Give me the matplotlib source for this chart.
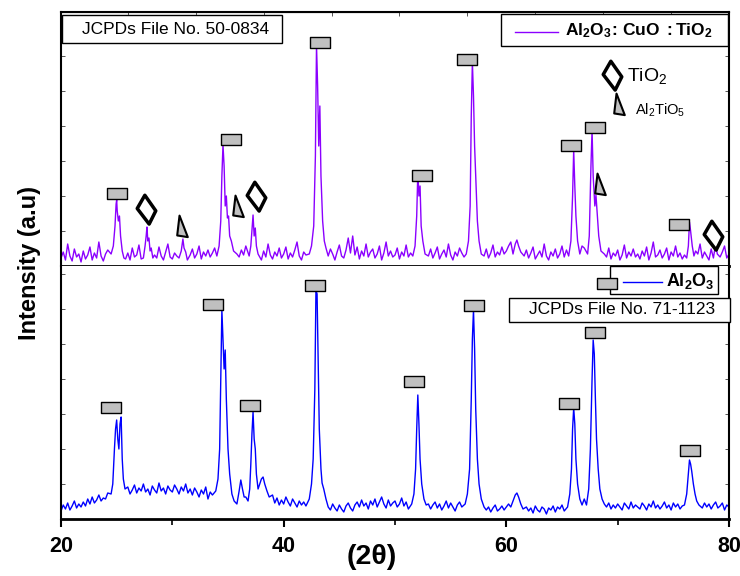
import numpy as np
import matplotlib
matplotlib.use('Agg')
import matplotlib.pyplot as plt
from matplotlib.path import Path
from matplotlib.patches import Rectangle
from matplotlib.lines import Line2D
from matplotlib import font_manager

# ---- data (2theta in deg, intensity in a.u.) ----
# baseline noise on a 0.2 deg grid from 20 to 80
top_base = [
    8, 14, 6, 22, 10, 5, 17, 9, 12, 4,
    15, 7, 11, 19, 6, 13, 8, 24, 10, 5,
    12, 16, 9, 14, 20, 30, 28, 18, 10, 7,
    13, 6, 18, 9, 11, 21, 7, 14, 10, 12,
    16, 5, 11, 8, 19, 10, 6, 14, 22, 9,
    7, 13, 10, 18, 12, 9, 15, 6, 11, 17,
    8, 12, 20, 7, 14, 10, 16, 9, 13, 18,
    10, 15, 20, 25, 30, 28, 22, 18, 14, 12,
    9, 16, 11, 20, 8, 14, 13, 10, 17, 12,
    6, 15, 9, 22, 11, 7, 14, 10, 18, 8,
    12, 19, 7, 13, 9, 16, 24, 10, 6, 14,
    11, 8, 15, 20, 25, 30, 30, 25, 18, 12,
    9, 17, 12, 6, 14, 21, 10, 8, 16, 28,
    13, 30, 11, 19, 7, 15, 10, 22, 9, 14,
    17, 8, 12, 20, 6, 13, 24, 10, 15, 9,
    11, 18, 7, 14, 10, 21, 9, 13, 16, 12,
    20, 25, 30, 22, 14, 10, 17, 8, 13, 19,
    7, 12, 16, 9, 22, 11, 6, 14, 10, 18,
    13, 9, 15, 20, 25, 30, 25, 20, 15, 12,
    10, 17, 8, 13, 21, 9, 14, 11, 19, 12,
    15, 20, 24, 26, 22, 30, 18, 14, 10, 16,
    8, 13, 19, 7, 11, 15, 9, 22, 10, 6,
    14, 10, 17, 8, 12, 20, 9, 16, 11, 13,
    20, 25, 30, 25, 20, 18, 15, 20, 25, 30,
    30, 25, 20, 15, 12, 9, 18, 7, 13, 10,
    16, 6, 11, 21, 8, 14, 10, 17, 9, 12,
    7, 15, 10, 19, 6, 13, 24, 9, 11, 16,
    8, 12, 18, 6, 14, 10, 20, 9, 13, 7,
    11, 16, 20, 25, 20, 15, 12, 22, 8, 14,
    10, 6, 17, 12, 22, 18, 9, 14, 20, 8,
    12,
]
bot_base = [
    8, 14, 10, 16, 9, 13, 18, 11, 15, 12,
    17, 13, 20, 15, 22, 16, 19, 24, 18, 21,
    20, 26, 22, 30, 60, 90, 80, 40, 30, 28,
    32, 25, 29, 34, 26, 31, 28, 35, 27, 30,
    24, 33, 29, 26, 36, 28, 31, 25, 33, 29,
    27, 34, 30, 25, 32, 28, 35, 26, 30, 24,
    31, 27, 22, 29, 25, 32, 20, 27, 24, 28,
    40, 100, 200, 160, 80, 40, 25, 20, 17, 15,
    25, 35, 30, 22, 30, 60, 100, 60, 35, 30,
    40, 35, 28, 22, 18, 24, 16, 21, 14, 19,
    15, 22, 17, 13, 20, 16, 12, 18, 14, 17,
    13, 19, 25, 60, 200, 150, 50, 35, 25, 18,
    12, 9, 15, 11, 8, 14, 10, 7, 13, 16,
    11, 8, 14, 17, 12, 19, 13, 16, 10, 18,
    14, 20, 12, 17, 22, 15, 11, 19, 13, 16,
    18, 12, 15, 21, 13, 17, 10, 16, 20, 25,
    100, 80, 35, 18, 12, 15, 10, 14, 17, 11,
    15, 9, 13, 18, 11, 16, 12, 8, 14, 17,
    12, 15, 20, 30, 80, 200, 150, 60, 30, 20,
    13, 9, 12, 7, 11, 14, 8, 10, 13, 9,
    12, 15, 18, 22, 26, 24, 18, 14, 10, 12,
    8, 11, 6, 13, 9, 7, 12, 10, 5, 11,
    9, 13, 7, 12, 10, 14, 8, 12, 18, 40,
    100, 70, 30, 18, 16, 20, 30, 60, 150, 170,
    120, 60, 30, 20, 15, 12, 16, 10, 14, 11,
    15, 12, 9, 16, 13, 10, 17, 11, 14, 12,
    10, 16, 13, 9, 15, 12, 18, 11, 14, 10,
    13, 17, 11, 14, 9, 16, 12, 15, 10, 13,
    14, 20, 40, 55, 45, 25, 18, 14, 11, 16,
    12, 15, 10, 14, 17, 11, 13, 16, 9, 14,
    12,
]

# peak profiles, Al2O3:CuO:TiO2 (top)
top_pk_x = [24.5, 24.7, 24.85, 24.95, 25.0, 25.05, 25.15, 25.25, 25.35, 25.5, 25.65,
            27.4, 27.55, 27.65, 27.72, 27.8, 27.9, 28.0, 28.1, 28.25,
            30.6, 30.8, 30.95, 31.05, 31.2, 31.35,
            34.0, 34.2, 34.35, 34.45, 34.55, 34.65, 34.75, 34.85, 34.95, 35.05, 35.15, 35.3, 35.5,
            36.9, 37.05, 37.15, 37.25, 37.35, 37.45, 37.55, 37.7,
            42.3, 42.5, 42.7, 42.85, 42.95, 43.05, 43.15, 43.25, 43.35, 43.5, 43.65, 43.8, 44.0,
            51.6, 51.8, 51.95, 52.05, 52.15, 52.25, 52.35, 52.5, 52.7,
            56.4, 56.6, 56.75, 56.85, 56.95, 57.05, 57.15, 57.25, 57.4, 57.55, 57.75,
            60.6, 60.8, 60.95, 61.1, 61.3,
            65.6, 65.8, 65.95, 66.05, 66.15, 66.25, 66.4, 66.6,
            67.3, 67.45, 67.6, 67.7, 67.8, 67.95, 68.05, 68.15, 68.3, 68.5,
            76.2, 76.35, 76.45, 76.55, 76.7, 76.85,
            78.6, 78.8, 78.95]
top_pk_y = [12, 20, 40, 62, 66, 55, 45, 50, 30, 15, 8,
            8, 20, 30, 39, 25, 28, 15, 18, 8,
            8, 15, 27, 18, 14, 6,
            10, 20, 45, 90, 121, 100, 60, 70, 48, 50, 30, 25, 15,
            10, 20, 35, 51, 30, 38, 20, 12,
            12, 20, 40, 110, 221, 180, 120, 160, 90, 45, 25, 18, 10,
            10, 20, 50, 94, 70, 80, 40, 25, 12,
            12, 25, 60, 150, 204, 170, 120, 90, 45, 25, 12,
            12, 22, 26, 20, 14,
            10, 25, 70, 116, 80, 50, 25, 12,
            12, 30, 100, 136, 90, 60, 71, 55, 30, 15,
            8, 20, 44, 35, 20, 10,
            8, 22, 12]

# peak profiles, Al2O3 (bottom)
bot_pk_x = [24.5, 24.65, 24.8, 24.9, 25.0, 25.1, 25.2, 25.3, 25.4, 25.5, 25.6, 25.75,
            33.9, 34.1, 34.25, 34.35, 34.45, 34.55, 34.65, 34.75, 34.85, 35.0, 35.15, 35.35, 35.55,
            35.8, 36.0, 36.15, 36.3, 36.45,
            36.8, 36.95, 37.05, 37.15, 37.25, 37.35, 37.45, 37.55, 37.7, 37.85, 38.0, 38.15,
            38.3, 38.5, 38.7,
            42.3, 42.5, 42.65, 42.8, 42.9, 43.0, 43.1, 43.2, 43.35, 43.45, 43.6, 43.8, 44.0,
            51.5, 51.7, 51.85, 51.95, 52.05, 52.15, 52.25, 52.4, 52.6, 52.8,
            56.3, 56.5, 56.7, 56.85, 56.95, 57.05, 57.15, 57.25, 57.4, 57.55, 57.75, 58.0,
            60.4, 60.6, 60.8, 60.95, 61.1, 61.3, 61.5,
            65.5, 65.7, 65.85, 65.95, 66.05, 66.15, 66.25, 66.4, 66.6, 66.8,
            67.2, 67.4, 67.55, 67.7, 67.8, 67.9, 68.0, 68.1, 68.25, 68.4, 68.6, 68.8,
            76.0, 76.2, 76.35, 76.45, 76.55, 76.65, 76.8, 76.95, 77.1, 77.3]
bot_pk_y = [25, 35, 70, 90, 99, 80, 70, 95, 102, 60, 40, 30,
            28, 40, 70, 140, 209, 180, 150, 169, 120, 70, 45, 25, 18,
            15, 28, 39, 30, 22,
            18, 30, 55, 85, 107, 80, 70, 45, 30, 35, 40, 42,
            35, 28, 22,
            20, 35, 60, 130, 229, 225, 160, 90, 50, 36, 30, 20, 12,
            15, 25, 50, 90, 124, 95, 60, 35, 20, 14,
            15, 25, 50, 120, 180, 209, 170, 110, 60, 35, 20, 12,
            12, 18, 24, 26, 22, 15, 10,
            12, 25, 50, 90, 111, 95, 60, 35, 20, 14,
            14, 30, 70, 140, 179, 165, 120, 80, 50, 30, 20, 15,
            14, 25, 45, 59, 55, 48, 35, 25, 18, 14]

# phase markers (position, height)
top_rect_x = [25.03, 35.27, 43.26, 52.43, 56.47, 65.81, 67.97, 75.51]
top_rect_y = [73, 127, 224, 91, 207, 121, 139, 42]
top_diam_x = [27.63, 37.52, 78.56]
top_diam_y = [57, 70, 31]
top_tri_x = [30.78, 35.81, 68.32]
top_tri_y = [37, 57, 79]
bot_rect_x = [24.49, 33.65, 36.98, 42.81, 51.71, 57.10, 65.63, 67.97, 76.50]
bot_rect_y = [112, 215, 114, 234, 138, 214, 116, 187, 69]

x_major = [20, 40, 60, 80]
x_minor = [30, 50, 70]

PURPLE = '#8B00FF'
BLUE = '#0000FF'
GRAY = '#c0c0c0'
W, H = 740, 576


def merge(base, pk_x, pk_y):
    grid = np.round(20.0 + 0.2 * np.arange(len(base)), 2)
    base = np.asarray(base, float)
    pk_x = np.asarray(pk_x, float)
    d = np.min(np.abs(grid[:, None] - pk_x[None, :]), axis=1)
    keep = d > 0.12
    x = np.concatenate([grid[keep], pk_x])
    y = np.concatenate([base[keep], np.asarray(pk_y, float)])
    order = np.argsort(x, kind='stable')
    return x[order], y[order]


rect_mk = Path([(-1, -0.55), (1, -0.55), (1, 0.55), (-1, 0.55), (-1, -0.55)],
               [Path.MOVETO, Path.LINETO, Path.LINETO, Path.LINETO, Path.CLOSEPOLY])
diam_mk = Path([(-5, 43), (28, -4), (8, -44), (-28, 3), (-5, 43)],
               [Path.MOVETO, Path.LINETO, Path.LINETO, Path.LINETO, Path.CLOSEPOLY])
tri_mk = Path([(-6, 42), (19, -23), (-13, -18), (-6, 42)],
              [Path.MOVETO, Path.LINETO, Path.LINETO, Path.CLOSEPOLY])

names = font_manager.get_font_names()
narrow = 'Liberation Sans Narrow' if 'Liberation Sans Narrow' in names else 'Liberation Sans'
tick_size = 18 if narrow == 'Liberation Sans Narrow' else 15.5

plt.rcParams['font.family'] = ['Liberation Sans', 'DejaVu Sans']
plt.rcParams['mathtext.fontset'] = 'custom'
plt.rcParams['mathtext.rm'] = 'Liberation Sans'
plt.rcParams['mathtext.bf'] = 'Liberation Sans:bold'
plt.rcParams['mathtext.it'] = 'Liberation Sans:italic'


def fx(px):
    return px / W


def fy(py):
    return 1 - py / H


fig = plt.figure(figsize=(7.4, 5.76), dpi=100)
ax1 = fig.add_axes([fx(61), fy(266), fx(729) - fx(61), fy(12) - fy(266)])
ax2 = fig.add_axes([fx(61), fy(519), fx(729) - fx(61), fy(266) - fy(519)])

tx, ty = merge(top_base, top_pk_x, top_pk_y)
bx, by = merge(bot_base, bot_pk_x, bot_pk_y)
ax1.plot(tx, ty, color=PURPLE, lw=1.0, zorder=2)
ax2.plot(bx, by, color=BLUE, lw=1.0, zorder=2)

ax1.plot(top_rect_x, top_rect_y, ls='none', marker=rect_mk, ms=14.4,
         mfc=GRAY, mec='k', mew=1, zorder=3)
ax1.plot(top_diam_x, top_diam_y, ls='none', marker=diam_mk, ms=21,
         mfc='white', mec='k', mew=2.5, zorder=3)
ax1.plot(top_tri_x, top_tri_y, ls='none', marker=tri_mk, ms=20,
         mfc=GRAY, mec='k', mew=1.5, zorder=3)
ax2.plot(bot_rect_x, bot_rect_y, ls='none', marker=rect_mk, ms=14.4,
         mfc=GRAY, mec='k', mew=1, zorder=3)

for ax in (ax1, ax2):
    ax.set_xlim(20, 80)
    ax.set_yticks(np.arange(0, 260, 35))
    ax.set_yticklabels([])
    ax.tick_params(axis='y', which='both', direction='in', length=3, width=0.7,
                   left=True, right=True, color='#555555')
    for s in ax.spines.values():
        s.set_linewidth(1.5)
ax1.set_ylim(0, 254)
ax2.set_ylim(0, 253)

# top panel x ticks
ax1.set_xticks([30, 40, 50, 60, 70])
ax1.set_xticklabels([])
ax1.tick_params(axis='x', direction='out', length=5, width=1)
ax1.spines['bottom'].set_linewidth(2)
sec = ax1.secondary_xaxis('top')
sec.set_xticks(np.arange(26, 80, 6.1))
sec.set_xticklabels([])
sec.tick_params(direction='in', length=3, width=0.7, color='#555555')

# bottom panel x ticks
ax2.spines['top'].set_visible(False)
ax2.spines['bottom'].set_linewidth(2)
ax2.set_xticks(x_major)
ax2.set_xticks(x_minor, minor=True)
ax2.tick_params(axis='x', which='major', direction='out', length=6, width=1.5, pad=6)
ax2.tick_params(axis='x', which='minor', direction='out', length=4, width=1.2)
for lab in ax2.get_xticklabels():
    lab.set_fontfamily(narrow)
    lab.set_fontweight('bold')
    lab.set_fontsize(tick_size)

fig.text(fx(372), fy(557), '(2\u03b8)', ha='center', va='center',
         fontsize=tick_size + 5, fontweight='bold', family=narrow)
fig.text(fx(30), fy(263), 'Intensity (a.u)', rotation=90, ha='center', va='center',
         fontsize=17, fontweight='bold')


def fig_box(x0, y0, x1, y1):
    r = Rectangle((fx(x0), fy(y1)), fx(x1) - fx(x0), fy(y0) - fy(y1),
                  transform=fig.transFigure, facecolor='white', edgecolor='black',
                  lw=1, zorder=5)
    fig.add_artist(r)


# text boxes
fig_box(62, 15, 282, 43)
fig.text(fx(176), fy(29), 'JCPDs File No. 50-0834', ha='center', va='center',
         fontsize=12.5, zorder=6)
fig_box(501, 14, 728, 46)
fig.add_artist(Line2D([fx(515), fx(558)], [fy(32), fy(32)], transform=fig.transFigure,
                      color=PURPLE, lw=1, zorder=6))
fig.text(fx(565), fy(31), r'$\mathbf{Al_2O_3\!:\,CuO\ :TiO_2}$', ha='left', va='center',
         fontsize=12.5, zorder=6)

fig_box(610, 266, 718, 294)
fig.add_artist(Line2D([fx(607)], [fy(283)], transform=fig.transFigure, ls='none',
                      marker=rect_mk, ms=14.4, mfc=GRAY, mec='k', mew=1, zorder=7))
fig.add_artist(Line2D([fx(623), fx(662)], [fy(282), fy(282)], transform=fig.transFigure,
                      color=BLUE, lw=1, zorder=6))
fig.text(fx(666), fy(281), r'$\mathbf{Al_2O_3}$', ha='left', va='center',
         fontsize=13, zorder=6)
fig_box(509, 298, 730, 322)
fig.text(fx(622), fy(310), 'JCPDs File No. 71-1123', ha='center', va='center',
         fontsize=12.5, zorder=6)

# phase key
fig.add_artist(Line2D([fx(612)], [fy(75)], transform=fig.transFigure, ls='none',
                      marker=diam_mk, ms=21, mfc='white', mec='k', mew=2.5, zorder=7))
fig.add_artist(Line2D([fx(618)], [fy(107)], transform=fig.transFigure, ls='none',
                      marker=tri_mk, ms=20, mfc=GRAY, mec='k', mew=1.5, zorder=7))
fig.text(fx(627), fy(76), r'TiO$_2$', ha='left', va='center', fontsize=14, zorder=6)
fig.text(fx(635), fy(110), r'Al$_2$TiO$_5$', ha='left', va='center', fontsize=10.5,
         zorder=6)

fig.savefig('out.png', dpi=100)
